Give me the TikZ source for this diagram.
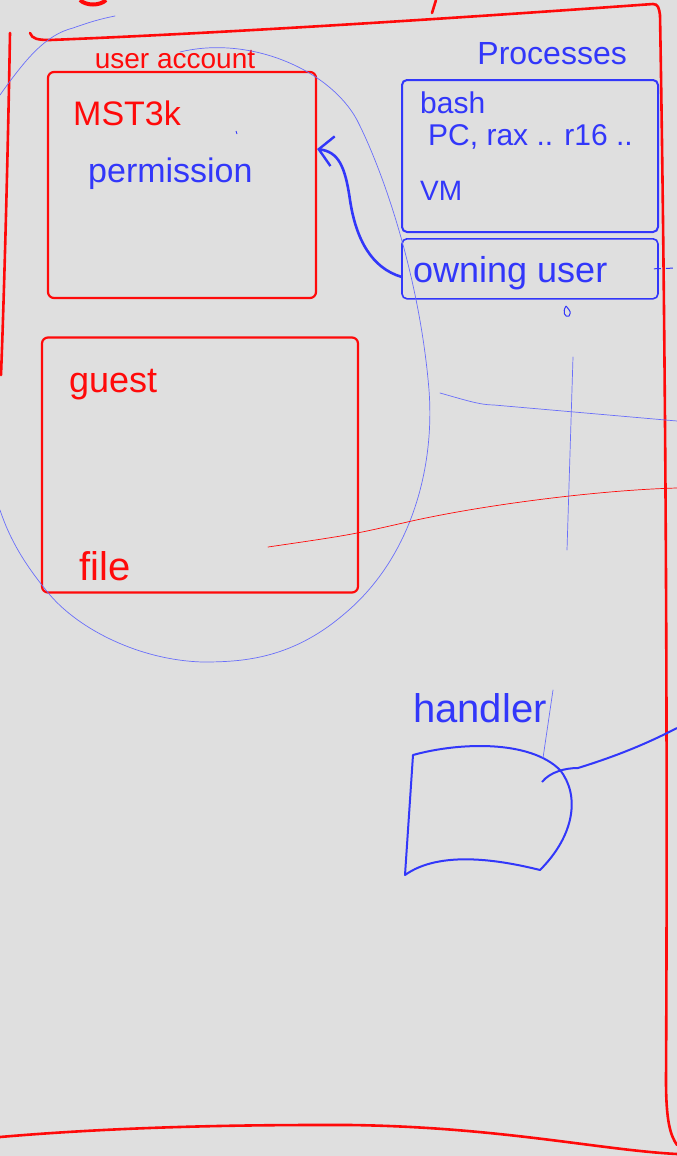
\documentclass[tikz,border=0pt]{standalone}
\usepackage{fontspec}
\setmainfont{Liberation Sans}
\usetikzlibrary{arrows.meta, positioning}
\definecolor{inkred}{RGB}{255,10,10}
\definecolor{inkblue}{RGB}{50,55,250}
\definecolor{faintblue}{RGB}{105,110,250}
\definecolor{paper}{RGB}{223,223,223}
\newcommand{\inksize}[1]{\fontsize{#1}{#1}\selectfont}

\begin{document}
\begin{tikzpicture}[
      x=1pt, y=-1pt,
      node distance=4pt,
      redbox/.style={draw=inkred, rounded corners=6pt, line width=2.2pt, inner sep=0pt},
      bluebox/.style={draw=inkblue, rounded corners=5pt, line width=2pt,
                      inner sep=0pt, minimum width=256pt},
      redtext/.style={text=inkred, inner sep=0pt},
      bluetext/.style={text=inkblue, inner sep=0pt},
      frame/.style={draw=inkred, line width=2.6pt, line cap=round},
      faint/.style={line width=0.7pt, line cap=round},
      arrow/.style={-{Straight Barb[length=14pt, width=30pt, line width=2.4pt]}, line width=2.6pt, color=inkblue},
  ]
    \useasboundingbox (0,0) rectangle (677,1156);
    \fill[paper] (0,0) rectangle (677,1156);

    % page frame
    \draw[frame] (30,33) .. controls (32,39) and (38,40) .. (50,40)
        .. controls (250,32) and (500,15) .. (653,4)
        .. controls (658,4) and (659,8) .. (660,15)
        .. controls (665,300) and (668,700) .. (666,1080)
        .. controls (666,1120) and (670,1135) .. (677,1145);
    \draw[frame] (10,33) .. controls (8,150) and (4,300) .. (1,375);
    \draw[frame] (0,1137) .. controls (150,1124) and (300,1125) .. (350,1125)
        .. controls (500,1127) and (600,1150) .. (677,1154);
    \draw[inkred, line width=4pt] (80,0) .. controls (86,6) and (100,6) .. (106,0);
    \draw[frame] (436,0) -- (432,13);

    % user accounts
    \node[redbox, minimum width=268pt, minimum height=226pt] (acct) at (182,185) {};
    \node[redtext, font=\inksize{28}, above=2pt of acct, xshift=-7pt] (acctlbl) {user account};
    \node[redtext, font=\inksize{34}, anchor=base west] (mst) at (73,125) {MST3k};
    \node[bluetext, font=\inksize{34}, anchor=base west] (perm) at (88,182) {permission};

    \node[redbox, minimum width=316pt, minimum height=255pt] (guestbox) at (200,465) {};
    \node[redtext, font=\inksize{36}, anchor=base west] (guest) at (69,392) {guest};
    \node[redtext, font=\inksize{40}, anchor=base west] (file) at (79,580) {file};

    % processes
    \node[bluebox, minimum height=152pt] (proc) at (530,156) {};
    \node[bluetext, font=\inksize{32}, above left=14pt and 32pt of proc.north east] (proclbl) {Processes};
    \node[bluetext, font=\inksize{30}, anchor=base west] (bash) at (420,113) {bash};
    \node[bluetext, font=\inksize{30}, anchor=base west] (regs) at (428,145) {PC, rax .. r16 ..};
    \node[bluetext, font=\inksize{28}, anchor=base west] (vm) at (420,200) {VM};
    \node[bluebox, line width=1.6pt, minimum height=60pt, below=5pt of proc] (owner) {};
    \node[bluetext, font=\inksize{36}, anchor=base west] (ownlbl) at (413,282) {owning user};

    \coordinate (rimO) at (677,268);
    \draw[inkblue, line width=1pt, dash pattern=on 7pt off 5pt] ([xshift=-5pt]owner.east) -- (rimO);
    \draw[arrow] ([yshift=-8pt]owner.west) .. controls (372,268) and (356,240) .. (350,200)
        .. controls (345,165) and (338,152) .. ([yshift=36pt]acct.east);

    % handler
    \node[bluetext, font=\inksize{40}, anchor=base west] (hdltxt) at (413,722) {handler};
    \draw[inkblue, line width=2pt, line join=round] (413,755) .. controls (460,742) and (530,740) .. (560,770)
        .. controls (580,795) and (575,835) .. (540,870)
        .. controls (500,860) and (440,850) .. (405,875) -- cycle;
    \coordinate (hdlhook) at (542,782);
    \coordinate (rimR) at (677,728);
    \draw[inkblue, line width=2pt] (hdlhook) .. controls (550,772) and (565,768) .. (578,768)
        .. controls (620,755) and (650,742) .. (rimR);
    \draw[faintblue, faint] (553,690) -- (543,758);

    % loose strokes
    \draw[faintblue, faint] (0,95) .. controls (25,60) and (45,35) .. (73,28)
        .. controls (90,22) and (100,19) .. (115,16);
    \draw[faintblue, faint] (180,52) .. controls (250,35) and (330,70) .. (357,120)
        .. controls (385,175) and (420,280) .. (429,390)
        .. controls (435,470) and (410,560) .. (343,615)
        .. controls (290,660) and (240,662) .. (202,662)
        .. controls (140,660) and (80,630) .. (50,595)
        .. controls (25,565) and (10,540) .. (0,510);
    \draw[faintblue, faint] (440,393) .. controls (465,400) and (480,405) .. (494,405) -- (677,421);
    \draw[faintblue, faint] (573,357) -- (567,550);
    \draw[inkred, faint] (268,547) .. controls (350,535) .. (403,523)
        .. controls (480,505) and (600,490) .. (677,488);
    \draw[inkblue, line width=1pt] (566,306) .. controls (562,312) and (565,318) .. (569,316)
        .. controls (571,312) .. (566,306);
    \draw[inkblue, line width=0.8pt] (236,131) -- (237,134);

  \end{tikzpicture}
\end{document}
